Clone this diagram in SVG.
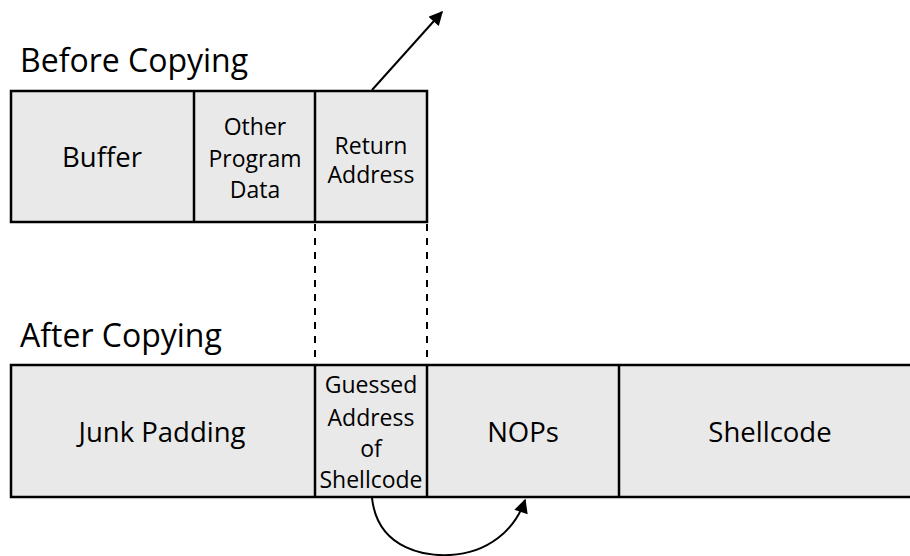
<svg xmlns="http://www.w3.org/2000/svg" width="910" height="556" viewBox="0 0 910 556">
<style>
.box{fill:#e9e9e9;stroke:#000;stroke-width:2.5}
.div{stroke:#000;stroke-width:2.5}
text{font-family:"Open Sans","Liberation Sans",sans-serif;fill:#000;text-anchor:middle}
.title{font-size:32px;text-anchor:start}
.big{font-size:27.5px}
.small{font-size:23px}
.dash{stroke:#000;stroke-width:2;stroke-dasharray:7 7;fill:none}
.arr{stroke:#000;stroke-width:2;fill:none}
</style>
<defs>
<marker id="ah" viewBox="0 0 10 10" refX="9" refY="5" markerWidth="15" markerHeight="14" markerUnits="userSpaceOnUse" orient="auto">
<path d="M0,0 L10,5 L0,10 Z" fill="#000"/>
</marker>
</defs>
<text class="title" x="20" y="72">Before Copying</text>
<text class="title" x="20" y="347">After Copying</text>
<g id="before">
<rect class="box" x="11" y="91" width="416" height="131"/>
<line class="div" x1="194" y1="91" x2="194" y2="222"/>
<line class="div" x1="315" y1="91" x2="315" y2="222"/>
</g>
<g id="buffer"><text class="big" x="102" y="167">Buffer</text></g>
<g id="other"><text class="small" x="255" y="135">Other</text><text class="small" x="255" y="167">Program</text><text class="small" x="255" y="198">Data</text></g>
<g id="ret"><text class="small" x="371" y="154">Return</text><text class="small" x="371" y="183">Address</text></g>
<g id="after">
<rect class="box" x="11" y="365" width="915" height="132"/>
<line class="div" x1="315" y1="365" x2="315" y2="497"/>
<line class="div" x1="427" y1="365" x2="427" y2="497"/>
<line class="div" x1="619" y1="365" x2="619" y2="497"/>
</g>
<g id="junk"><text class="big" x="162" y="442">Junk Padding</text></g>
<g id="guessed"><text class="small" x="371" y="393">Guessed</text><text class="small" x="371" y="426">Address</text><text class="small" x="371" y="457">of</text><text class="small" x="371" y="488">Shellcode</text></g>
<g id="nops"><text class="big" x="523" y="442">NOPs</text></g>
<g id="shellcode"><text class="big" x="770" y="442">Shellcode</text></g>
<g id="connectors">
<line class="dash" x1="315" y1="224" x2="315" y2="364"/>
<line class="dash" x1="427" y1="224" x2="427" y2="364"/>
<line class="arr" x1="372" y1="90" x2="442" y2="12" marker-end="url(#ah)"/>
<path class="arr" d="M372,498 C378,552 430,556 450,555 C488,553 515,530 525,500" marker-end="url(#ah)"/>
</g>
</svg>
